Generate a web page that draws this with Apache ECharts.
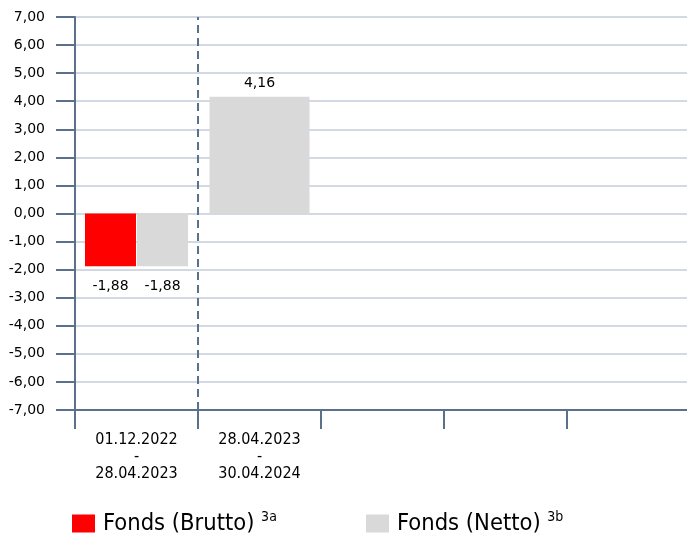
<!DOCTYPE html>
<html>
	<head>
		<meta charset="UTF-8">
		<title></title>
		<style>
			html, body { margin: 0; padding: 0; background: #fff; }
		</style>
	</head>
	<body>
		<div id="chart" style="width:687px;height:536px;"></div>

		<script src="https://cdn.jsdelivr.net/npm/echarts@6/dist/echarts.min.js"></script>
		<script>
			// Zeiträume (x-Achse), 5 Felder, nur die ersten zwei belegt
			var periods = ['01.12.2022\n-\n28.04.2023', '28.04.2023\n-\n30.04.2024', '', '', ''];
			var brutto = [-1.88, '-', '-', '-', '-'];       /* Fonds (Brutto) 3a */
			var nettoPaired = [-1.88, '-', '-', '-', '-'];  /* Netto neben Brutto */
			var nettoSingle = ['-', 4.16, '-', '-', '-'];   /* Netto allein */
			var yTicks = { min: -7, max: 7, interval: 1 };
			var dividerAt = 1; // gestrichelte Trennlinie nach dem ersten Zeitraum

			var axisColor = '#5a708c';
			var gridColor = '#d2d9e2';
			var condensed = '"DejaVu Sans Condensed", "DejaVu Sans", sans-serif';

			function fmt(v) {
				return v.toFixed(2).replace('.', ',');
			}

			function barLabel(pos, dist) {
				return {
					show: true,
					position: pos,
					distance: dist,
					color: '#000',
					fontFamily: 'DejaVu Sans',
					fontSize: 14,
					formatter: function (p) { return fmt(p.value); }
				};
			}

			function legendItem(name, sup, left) {
				return {
					data: [name],
					left: left, top: 510,
					padding: 0,
					itemWidth: 23, itemHeight: 18,
					icon: 'rect',
					formatter: function (n) { return '{a|' + n + ' }{s|' + sup + '}'; },
					textStyle: {
						rich: {
							a: { fontFamily: condensed, fontSize: 23.5, color: '#000', padding: [0, 0, 0, 3] },
							s: { fontFamily: condensed, fontSize: 14, color: '#000', verticalAlign: 'top', padding: [0, 0, 13, 0] }
						}
					}
				};
			}

			var myChart = echarts.init(document.getElementById('chart'));
			myChart.setOption({
				animation: false,
				grid: { left: 75, top: 17, width: 615, height: 393, containLabel: false, outerBoundsMode: 'none' },
				legend: [
					legendItem('Fonds (Brutto)', '3a', 72),
					legendItem('Fonds (Netto)', '3b', 366)
				],
				xAxis: [{
					type: 'category',
					data: periods,
					axisLine: { onZero: false, lineStyle: { color: axisColor, width: 2 } },
					axisTick: { show: true, length: 19, lineStyle: { color: axisColor, width: 2 } },
					axisLabel: {
						margin: 21,
						color: '#000',
						fontFamily: condensed,
						fontSize: 16,
						lineHeight: 17,
						interval: 0
					},
					splitLine: { show: false }
				}, {
					type: 'category',
					data: periods,
					show: false
				}, {
					type: 'value',
					min: 0,
					max: periods.length,
					show: false
				}],
				yAxis: {
					type: 'value',
					min: yTicks.min,
					max: yTicks.max,
					interval: yTicks.interval,
					axisLine: { show: true, lineStyle: { color: axisColor, width: 2 } },
					axisTick: { show: true, length: 19, lineStyle: { color: axisColor, width: 2 } },
					axisLabel: {
						margin: 30,
						color: '#000',
						fontFamily: 'DejaVu Sans',
						fontSize: 14,
						formatter: fmt
					},
					splitLine: { lineStyle: { color: gridColor, width: 2 } }
				},
				series: [{
					name: 'Fonds (Brutto)',
					type: 'bar',
					xAxisIndex: 0,
					data: brutto,
					barWidth: 51,
					barGap: '2%',
					itemStyle: { color: '#ff0000' },
					label: barLabel('bottom', 13)
				}, {
					name: 'Fonds (Netto)',
					type: 'bar',
					xAxisIndex: 0,
					data: nettoPaired,
					barWidth: 51,
					barGap: '2%',
					itemStyle: { color: '#d9d9d9' },
					label: barLabel('bottom', 13)
				}, {
					name: 'Fonds (Netto)',
					type: 'bar',
					xAxisIndex: 1,
					data: nettoSingle,
					barWidth: 100,
					itemStyle: { color: '#d9d9d9' },
					label: barLabel('top', 6)
				}, {
					name: 'divider',
					type: 'line',
					xAxisIndex: 2,
					data: [],
					silent: true,
					markLine: {
						silent: true,
						symbol: 'none',
						label: { show: false },
						lineStyle: { color: axisColor, width: 2, type: [8, 5] },
						data: [{ xAxis: dividerAt }]
					}
				}]
			});
		</script>
	</body>
</html>
